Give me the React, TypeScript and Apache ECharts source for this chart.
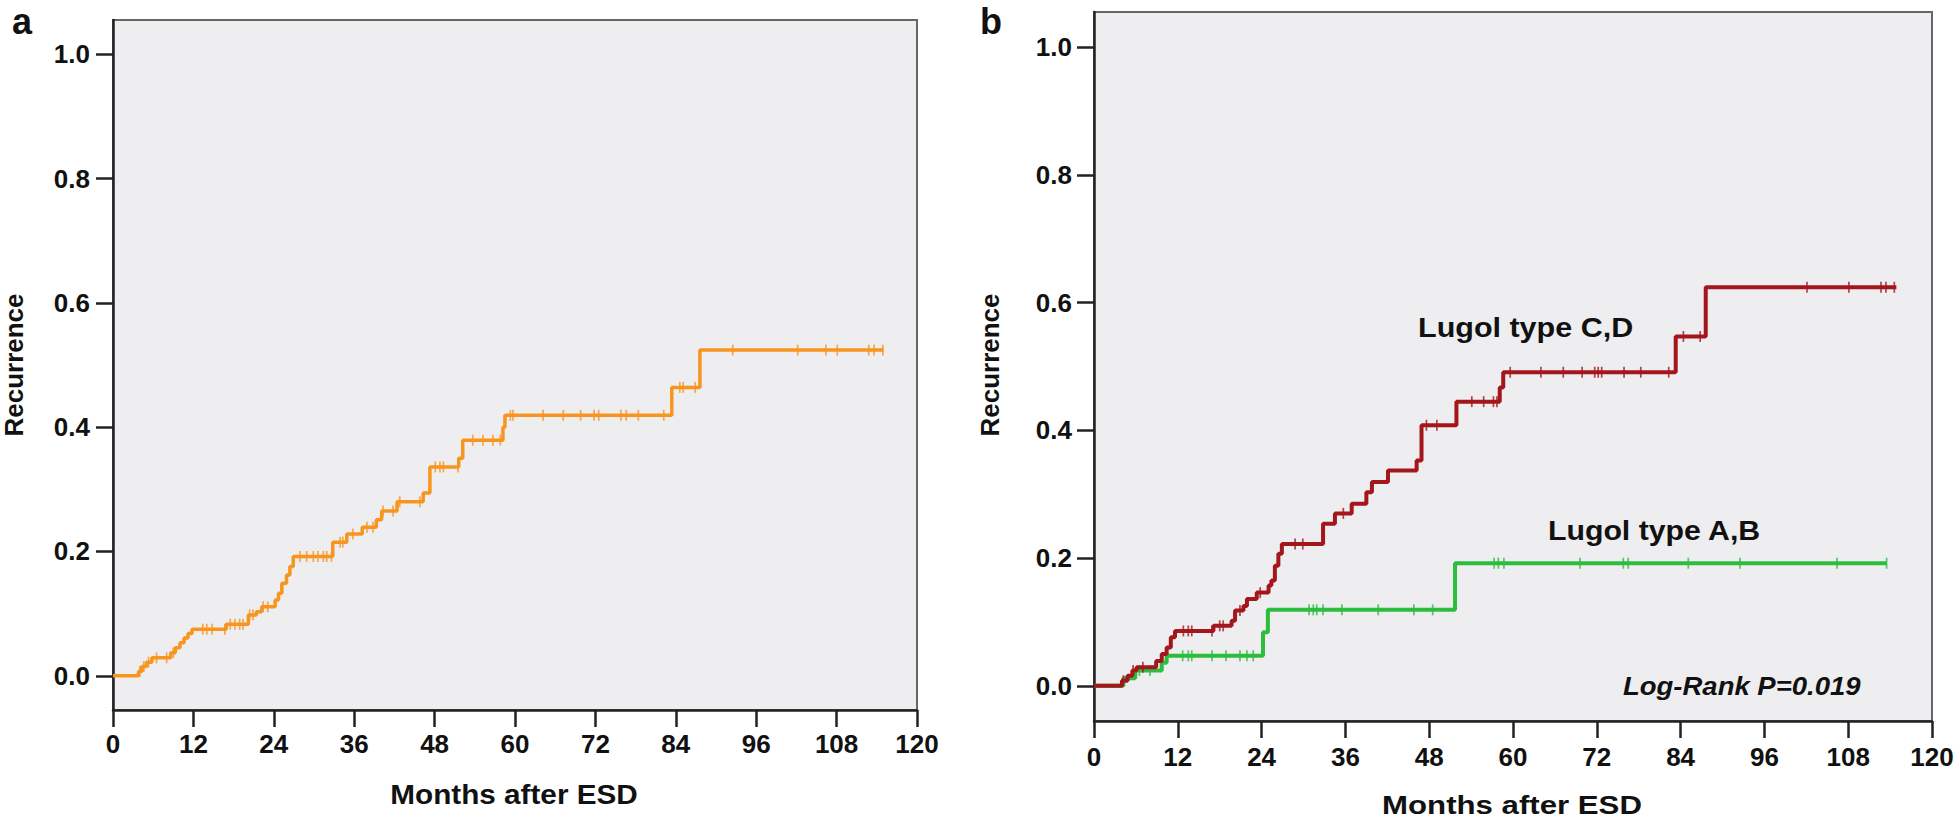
import React, { useEffect, useRef } from "react";
import * as echarts from "echarts";

// ---------- tick labels ----------
const xTickValues = [0, 12, 24, 36, 48, 60, 72, 84, 96, 108, 120];
const yTickValues = [0, 0.2, 0.4, 0.6, 0.8, 1.0];

// ---------- panel a : all patients ----------
const allStepTimes = [3.8, 4.3, 5.0, 5.8, 8.6, 9.3, 10.0, 10.6, 11.2, 11.8, 16.9, 20.2, 21.4, 22.2, 24.2, 24.7, 25.2, 25.9, 26.4, 26.9, 32.8, 34.9, 37.2, 39.3, 40.1, 42.4, 46.3, 47.3, 51.6, 52.2, 58.2, 58.5, 83.4, 87.6];
const allStepValues = [0.007, 0.015, 0.022, 0.029, 0.037, 0.045, 0.053, 0.061, 0.068, 0.075, 0.083, 0.098, 0.103, 0.111, 0.122, 0.133, 0.149, 0.162, 0.176, 0.192, 0.215, 0.228, 0.239, 0.251, 0.265, 0.28, 0.294, 0.336, 0.35, 0.379, 0.4, 0.419, 0.464, 0.524];
const allEndTime = 115;
const allCensorTimes = [4.0, 4.6, 5.3, 6.5, 8.0, 9.0, 13.4, 14.0, 14.8, 16.7, 17.5, 18.2, 18.9, 19.4, 20.4, 20.9, 22.4, 23.1, 27.9, 28.9, 29.9, 30.6, 31.4, 31.9, 32.6, 33.9, 34.3, 35.8, 37.9, 38.8, 40.3, 41.8, 42.8, 45.8, 48.1, 48.8, 49.3, 51.5, 53.7, 55.2, 56.7, 57.8, 59.3, 59.7, 64.2, 67.2, 69.8, 71.8, 72.5, 75.8, 76.6, 78.4, 82.2, 84.6, 85.1, 86.9, 92.5, 102.2, 106.4, 108.1, 112.8, 113.6, 114.9];

// ---------- panel b : Lugol type C,D ----------
const cdStepTimes = [4.0, 4.8, 5.5, 6.1, 8.9, 9.7, 10.4, 11.0, 11.6, 17.1, 19.7, 20.2, 21.4, 21.9, 23.3, 25.0, 25.4, 25.9, 26.4, 26.9, 32.8, 34.5, 36.9, 39.0, 39.8, 42.1, 46.2, 46.9, 51.9, 58.1, 58.6, 83.3, 87.6];
const cdStepValues = [0.008, 0.016, 0.024, 0.029, 0.039, 0.05, 0.06, 0.076, 0.086, 0.094, 0.102, 0.118, 0.125, 0.136, 0.146, 0.157, 0.165, 0.188, 0.207, 0.222, 0.254, 0.27, 0.285, 0.303, 0.319, 0.337, 0.353, 0.408, 0.445, 0.467, 0.491, 0.547, 0.624];
const cdEndTime = 114.9;
const cdCensorTimes = [4.2, 5.6, 7.0, 12.8, 13.5, 14.0, 16.9, 18.0, 18.5, 20.9, 23.8, 28.8, 29.9, 35.7, 47.6, 49.1, 54.1, 55.8, 57.2, 57.7, 59.6, 64.0, 67.2, 69.9, 71.7, 72.2, 72.7, 75.9, 78.3, 82.3, 84.4, 86.8, 102.1, 108.1, 112.7, 113.4, 114.6];

// ---------- panel b : Lugol type A,B ----------
const abStepTimes = [4.2, 5.9, 9.7, 10.4, 24.2, 24.9, 51.7];
const abStepValues = [0.012, 0.024, 0.036, 0.047, 0.084, 0.119, 0.192];
const abEndTime = 113.5;
const abCensorTimes = [6.5, 8.0, 12.7, 13.5, 14.0, 16.9, 18.9, 20.9, 21.9, 22.8, 30.8, 31.4, 31.9, 32.8, 35.5, 40.7, 45.8, 48.5, 57.3, 57.9, 58.7, 69.6, 75.8, 76.5, 85.1, 92.5, 106.4, 113.5];

const COLOR_ALL = "#F7951F";
const COLOR_CD = "#A3161C";
const COLOR_AB = "#2DBD3E";
const FONT = "'Liberation Sans', Arial, sans-serif";

function stepData(times: number[], values: number[], end: number) {
  const d: number[][] = [[0, 0]];
  for (let i = 0; i < times.length; i++) d.push([times[i], values[i]]);
  d.push([end, values[values.length - 1]]);
  return d;
}

function valueAt(times: number[], values: number[], t: number) {
  let v = 0;
  for (let i = 0; i < times.length; i++) if (times[i] <= t) v = values[i];
  return v;
}

function censorData(times: number[], values: number[], cens: number[]) {
  return cens.map((t) => [t, valueAt(times, values, t)]);
}

function makeX(gridIndex: number, labelMargin: number) {
  return {
    type: "value",
    gridIndex,
    min: 0,
    max: 120,
    interval: 12,
    axisLine: { show: true, onZero: false, lineStyle: { color: "#222", width: 2.5 } },
    axisTick: { show: true, inside: false, length: 17, lineStyle: { color: "#222", width: 2.5 } },
    axisLabel: { show: true, margin: labelMargin, fontSize: 26, fontWeight: "bold", color: "#111", fontFamily: FONT, customValues: xTickValues },
    splitLine: { show: false },
  };
}

function makeY(gridIndex: number, labelMargin: number) {
  return {
    type: "value",
    gridIndex,
    min: -0.055,
    max: 1.055,
    axisLine: { show: true, onZero: false, lineStyle: { color: "#222", width: 2.5 } },
    axisTick: { show: true, inside: false, length: 17, lineStyle: { color: "#222", width: 2.5 }, customValues: yTickValues },
    axisLabel: {
      show: true,
      margin: labelMargin,
      fontSize: 26,
      fontWeight: "bold",
      color: "#111",
      fontFamily: FONT,
      customValues: yTickValues,
      formatter: (v: number) => v.toFixed(1),
    },
    splitLine: { show: false },
  };
}

function text(t: string, x: number, y: number, size: number, opts: any = {}) {
  return {
    type: "text",
    x,
    y,
    scaleX: opts.scaleX ?? 1,
    rotation: opts.rotation ?? 0,
    z: 100,
    style: {
      text: t,
      x: 0,
      y: 0,
      fontSize: size,
      fontWeight: "bold",
      fontStyle: opts.italic ? "italic" : "normal",
      fontFamily: FONT,
      fill: "#111",
      align: opts.align ?? "left",
      verticalAlign: "middle",
    },
  };
}

function censorSeries(name: string, xi: number, data: number[][], color: string) {
  return {
    name,
    type: "scatter",
    xAxisIndex: xi,
    yAxisIndex: xi,
    symbol: "rect",
    symbolSize: [1.7, 11],
    itemStyle: { color, opacity: 0.8 },
    data,
    z: 4,
    silent: true,
  };
}

export default function App() {
  const ref = useRef<HTMLDivElement>(null);

  useEffect(() => {
    if (!ref.current) return;
    const chart = echarts.init(ref.current, null, { renderer: "svg" });
    const option: any = {
      animation: false,
      backgroundColor: "#ffffff",
      grid: [
        { left: 113, top: 20, width: 804, height: 690, show: true, backgroundColor: "#EEEEF0", borderColor: "#666", borderWidth: 2 },
        { left: 1094, top: 12, width: 838, height: 709, show: true, backgroundColor: "#EEEEF0", borderColor: "#666", borderWidth: 2 },
      ],
      xAxis: [makeX(0, 21), makeX(1, 23)],
      yAxis: [makeY(0, 23), makeY(1, 22)],
      series: [
        {
          name: "All",
          type: "line",
          xAxisIndex: 0,
          yAxisIndex: 0,
          step: "end",
          showSymbol: false,
          data: stepData(allStepTimes, allStepValues, allEndTime),
          lineStyle: { color: COLOR_ALL, width: 3.5 },
          itemStyle: { color: COLOR_ALL },
          z: 3,
        },
        censorSeries("All censored", 0, censorData(allStepTimes, allStepValues, allCensorTimes), COLOR_ALL),
        {
          name: "Lugol type A,B",
          type: "line",
          xAxisIndex: 1,
          yAxisIndex: 1,
          step: "end",
          showSymbol: false,
          data: stepData(abStepTimes, abStepValues, abEndTime),
          lineStyle: { color: COLOR_AB, width: 4 },
          itemStyle: { color: COLOR_AB },
          z: 3,
        },
        censorSeries("A,B censored", 1, censorData(abStepTimes, abStepValues, abCensorTimes), COLOR_AB),
        {
          name: "Lugol type C,D",
          type: "line",
          xAxisIndex: 1,
          yAxisIndex: 1,
          step: "end",
          showSymbol: false,
          data: stepData(cdStepTimes, cdStepValues, cdEndTime),
          lineStyle: { color: COLOR_CD, width: 4 },
          itemStyle: { color: COLOR_CD },
          z: 5,
        },
        censorSeries("C,D censored", 1, censorData(cdStepTimes, cdStepValues, cdCensorTimes), COLOR_CD),
      ],
      graphic: [
        text("a", 12, 21, 36),
        text("b", 980, 21, 36),
        text("Recurrence", 14, 365, 26, { rotation: Math.PI / 2, align: "center" }),
        text("Recurrence", 990, 365, 26, { rotation: Math.PI / 2, align: "center" }),
        text("Months after ESD", 514, 794, 27, { align: "center", scaleX: 1.1 }),
        text("Months after ESD", 1512, 805, 26, { align: "center", scaleX: 1.2 }),
        text("Lugol type C,D", 1418, 327, 28, { scaleX: 1.09 }),
        text("Lugol type A,B", 1548, 530, 28, { scaleX: 1.08 }),
        text("Log-Rank P=0.019", 1623, 686, 25, { italic: true, scaleX: 1.1 }),
      ],
    };
    chart.setOption(option);
    return () => chart.dispose();
  }, []);

  return (
    <div
      ref={ref}
      style={{ position: "absolute", left: 0, top: 0, width: 1960, height: 821 }}
    />
  );
}
